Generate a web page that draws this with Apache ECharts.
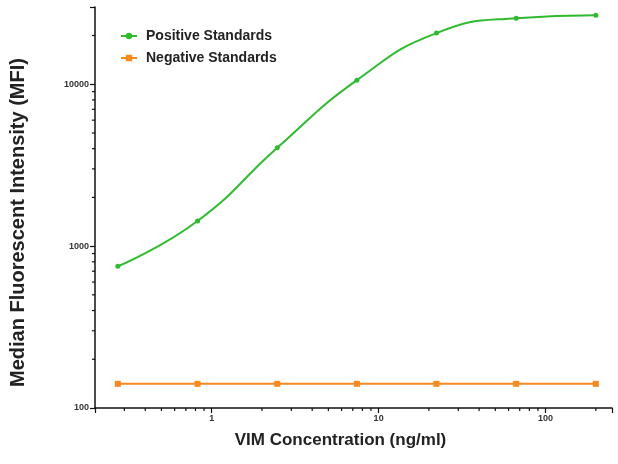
<!DOCTYPE html>
<html>
<head>
<meta charset="utf-8">
<script src="https://cdn.jsdelivr.net/npm/echarts@6/dist/echarts.min.js"></script>
<style>html,body{margin:0;padding:0;background:#fff;}#c{width:618px;height:464px;}</style>
</head>
<body>
<div id="c"></div>
<script>
var concentrations = [0.274, 0.823, 2.47, 7.41, 22.2, 66.7, 200];
var positiveValues = [750, 1430, 4050, 10600, 20700, 25600, 26700];
var negativeValues = [141, 141, 141, 141, 141, 141, 141];
var xMinorTickValues = [0.3,0.4,0.5,0.6,0.7,0.8,0.9,2,3,4,5,6,7,8,9,20,30,40,50,60,70,80,90,200];
var yMinorTickValues = [200,300,400,500,600,700,800,900,2000,3000,4000,5000,6000,7000,8000,9000,20000];
var X_MIN = 0.2, X_MAX = 250, Y_MIN = 100, Y_MAX = 30000;

var chart = echarts.init(document.getElementById('c'), null, {renderer: 'canvas'});
function pairs(xs, ys){ return xs.map(function(x,i){ return [x, ys[i]]; }); }
var green = '#2fba2f', orange = '#f7891f';
var font = 'Liberation Sans, Arial, sans-serif';

chart.setOption({
  animation: false,
  grid: {left: 95, top: 7, width: 517, height: 401, containLabel: false},
  legend: {
    left: 115, top: 24, orient: 'vertical', itemGap: 8, itemWidth: 16, itemHeight: 8,
    textStyle: {fontFamily: font, fontSize: 14, fontWeight: 'bold', color: '#222', padding: [0, 0, 0, 4]},
    data: ['Positive Standards', 'Negative Standards']
  },
  xAxis: {
    type: 'log', logBase: 10, min: X_MIN, max: X_MAX,
    name: 'VIM Concentration (ng/ml)', nameLocation: 'middle', nameGap: 24,
    nameTextStyle: {fontFamily: font, fontSize: 17, color: '#222', fontWeight: 'bold', padding: [0, 26, 0, 0]},
    axisLine: {lineStyle: {color: '#111', width: 1.5}},
    axisTick: {show: true, length: 5, lineStyle: {color: '#111', width: 1.2}},
    axisLabel: {fontFamily: font, fontSize: 9, fontWeight: 'bold', color: '#333', margin: 6,
      formatter: function(v){ return (v===1||v===10||v===100) ? String(v) : ''; }},
    splitLine: {show: false}
  },
  yAxis: {
    type: 'log', logBase: 10, min: Y_MIN, max: Y_MAX,
    name: 'Median Fluorescent Intensity (MFI)', nameLocation: 'middle', nameGap: 67,
    nameTextStyle: {fontFamily: font, fontSize: 20, color: '#222', fontWeight: 'bold', padding: [0, 30, 0, 0]},
    axisLine: {show: true, lineStyle: {color: '#111', width: 1.5}},
    axisTick: {show: true, length: 5, lineStyle: {color: '#111', width: 1.2}},
    axisLabel: {fontFamily: font, fontSize: 9, fontWeight: 'bold', color: '#333', margin: 6,
      formatter: function(v){ return (v===100||v===1000||v===10000) ? String(v) : ''; }},
    splitLine: {show: false}
  },
  series: [
    {
      name: 'Positive Standards', type: 'line', smooth: 0.5,
      data: pairs(concentrations, positiveValues),
      symbol: 'circle', symbolSize: 5,
      lineStyle: {color: green, width: 2}, itemStyle: {color: green}
    },
    {
      name: 'Negative Standards', type: 'line',
      data: pairs(concentrations, negativeValues),
      symbol: 'rect', symbolSize: 6,
      lineStyle: {color: orange, width: 2}, itemStyle: {color: orange}
    },
    {
      type: 'custom', silent: true, clip: false, legendHoverLink: false,
      data: xMinorTickValues.map(function(v){ return [v, Y_MIN]; }),
      renderItem: function(params, api){
        var p = api.coord([api.value(0), api.value(1)]);
        return {type: 'line', shape: {x1: p[0], y1: p[1], x2: p[0], y2: p[1] + 3},
                style: {stroke: '#111', lineWidth: 1.2}};
      }
    },
    {
      type: 'custom', silent: true, clip: false, legendHoverLink: false,
      data: yMinorTickValues.map(function(v){ return [X_MIN, v]; }),
      renderItem: function(params, api){
        var p = api.coord([api.value(0), api.value(1)]);
        return {type: 'line', shape: {x1: p[0] - 3, y1: p[1], x2: p[0], y2: p[1]},
                style: {stroke: '#111', lineWidth: 1.2}};
      }
    }
  ]
});
</script>
</body>
</html>
